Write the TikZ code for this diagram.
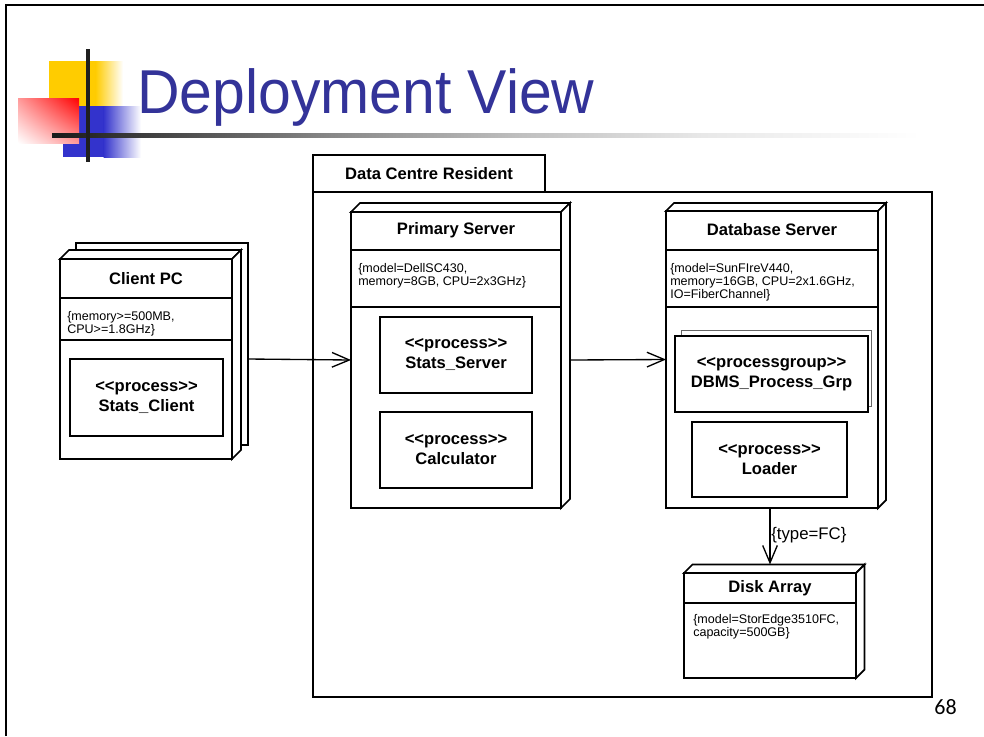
\documentclass[tikz,border=0pt]{standalone}
\usepackage{fontspec}
\setmainfont{Liberation Sans}[Ligatures=TeXOff]
\newfontfamily\calibfont{Carlito}
\usetikzlibrary{arrows.meta,fit,shadings}
\definecolor{titleblue}{HTML}{333399}
\definecolor{logoyellow}{HTML}{FFCC00}
\definecolor{logoblue}{HTML}{3333CC}
\pgfdeclarehorizontalshading{tline}{100bp}{color(0bp)=(black!90); color(25bp)=(black!90); color(41bp)=(black!47); color(52bp)=(black!25); color(62.5bp)=(black!9); color(75bp)=(white); color(100bp)=(white)}
\newcommand\ttlfont{\fontsize{12.45}{15}\selectfont\bfseries}
\newcommand\propfont{\fontsize{9.4}{9.75}\selectfont}
\tikzset{
  nodeline/.style={line width=1.3pt, line join=miter},
  frame/.style={inner sep=0pt, outer sep=0pt},
  conn/.style={line width=1pt, -{Straight Barb[length=13pt,width=11pt,line width=1pt]}},
  proptext/.style={anchor=north west, inner sep=0pt, align=left, font=\propfont},
  boxtext/.style={align=center, inner sep=0pt, font=\ttlfont},
}
% name, x1, y1, x2, y2, depth
\newcommand\threednode[6]{%
  \node[frame, fit={(#2,#3) (#4,#5)}] (#1) {};
  \filldraw[nodeline, fill=white] (#1.north west) -- ++(#6,-#6) -- ([shift={(#6,-#6)}]#1.north east) -- (#1.north east) -- cycle;
  \filldraw[nodeline, fill=white] (#1.north east) -- ([shift={(#6,-#6)}]#1.north east) -- ([shift={(#6,-#6)}]#1.south east) -- (#1.south east) -- cycle;
  \draw[nodeline, fill=white] (#1.north west) rectangle (#1.south east);
}
% name, x1, y1, x2, y2, style
\newcommand\procbox[6]{%
  \node[frame, fit={(#2,#3) (#4,#5)}, draw, fill=white, #6] (#1) {};
}
\begin{document}
\begin{tikzpicture}[x=0.75pt,y=-0.75pt]
\useasboundingbox (0,0) rectangle (984,736);
\fill[white] (0,0) rectangle (984,736);
% slide border
\draw[line width=1.6pt] (6,736) -- (6,5) -- (984,5);
% logo
\fill[logoyellow] (49,61) rectangle (96,106);
\shade[left color=logoyellow, right color=white] (95.5,61) rectangle (123,106);
\fill[logoblue] (63,106) rectangle (104,157);
\shade[left color=logoblue, right color=white] (103.5,106) rectangle (141,157);
\shade[upper right=red, lower left=white, upper left=red!40, lower right=red!40] (18,98) rectangle (79,143);
\shade[shading=tline] (52,133) rectangle (920,137);
\fill[black!88] (86,49) rectangle (90,162);
% title
\node[anchor=base west, inner sep=0pt, text=titleblue] (title) at (137,113)
  {\scalebox{0.95}[1]{\fontsize{46.5}{50}\selectfont Deployment View}};
% container
\node[frame, fit={(313,192) (932,697)}, draw, line width=1pt] (dcr) {};
\node[frame, fit={(313,155) (545,192)}, draw, line width=1pt] (dcrtab) {};
\draw[line width=1.4pt] (dcrtab.south west) -- (dcrtab.south east);
\node[boxtext] (dcrlabel) at (dcrtab.center) {Data Centre Resident};
% Client PC
\node[frame, fit={(76,243) (248,445)}, draw, nodeline, fill=white] (cpcback) {};
\threednode{cpc}{60}{259}{232}{459}{9}
\draw[nodeline] (cpc.west |- 0,298) -- (cpc.east |- 0,298);
\draw[nodeline] (cpc.west |- 0,340) -- (cpc.east |- 0,340);
\node[boxtext] (cpctitle) at (146,278.5) {Client PC};
\node[proptext] (cpcprops) at (67,311) {\{memory>=500MB,\\CPU>=1.8GHz\}};
\procbox{sclient}{70}{359}{223}{436}{nodeline}
\node[boxtext] (sclientt) at (sclient.center) {<<process>>\\Stats\_Client};
% Primary Server
\threednode{ps}{351}{212}{561}{508}{9}
\draw[nodeline] (ps.west |- 0,250) -- (ps.east |- 0,250);
\draw[nodeline] (ps.west |- 0,307) -- (ps.east |- 0,307);
\node[boxtext] (pstitle) at (456,230) {Primary Server};
\node[proptext] (psprops) at (358,263) {\{model=DellSC430,\\memory=8GB, CPU=2x3GHz\}};
\procbox{sserver}{380}{317}{532}{393}{nodeline}
\node[boxtext] at (sserver.center) (sservert) {<<process>>\\Stats\_Server};
\procbox{calc}{380}{412}{532}{488}{nodeline}
\node[boxtext] at (calc.center) (calct) {<<process>>\\Calculator};
% Database Server
\threednode{db}{666}{211}{878}{508}{8}
\draw[nodeline] (db.west |- 0,250) -- (db.east |- 0,250);
\draw[nodeline] (db.west |- 0,307) -- (db.east |- 0,307);
\node[boxtext] (dbtitle) at (772,230) {Database Server};
\node[proptext] (dbprops) at (670,263) {\{model=SunFIreV440,\\memory=16GB, CPU=2x1.6GHz,\\IO=FiberChannel\}};
\procbox{dbmsback}{681}{330}{871}{406}{draw=black!60, line width=0.6pt}
\procbox{dbms}{675}{336}{868}{412}{nodeline}
\node[boxtext] at (dbms.center) (dbmst) {<<processgroup>>\\DBMS\_Process\_Grp};
\procbox{loader}{692}{422}{847}{497}{line width=0.8pt}
\node[boxtext] at (loader.center) (loadert) {<<process>>\\Loader};
% Disk Array
\threednode{dsk}{684}{573}{856}{678}{8.5}
\draw[nodeline] (dsk.west |- 0,603) -- (dsk.east |- 0,603);
\node[boxtext] (dsktitle) at (770,588) {Disk Array};
\node[proptext] (dskprops) at (693,614) {\{model=StorEdge3510FC,\\capacity=500GB\}};
% connectors
\draw[conn] (cpc.east -| cpcback.east) -- (ps.west);
\draw[conn] ([xshift=6.75pt]ps.east) -- (db.west);
\draw[conn] (db.south -| dsk.north) -- ([yshift=6.4pt]dsk.north);
\node[anchor=west, inner sep=0pt, font=\fontsize{12.6}{14}\selectfont] (fclabel) at (771,535) {\{type=FC\}};
% page number
\node[inner sep=0pt] (pagenum) at (945.5,707) {\calibfont\fontsize{16.5}{18}\selectfont 68};
\end{tikzpicture}
\end{document}
